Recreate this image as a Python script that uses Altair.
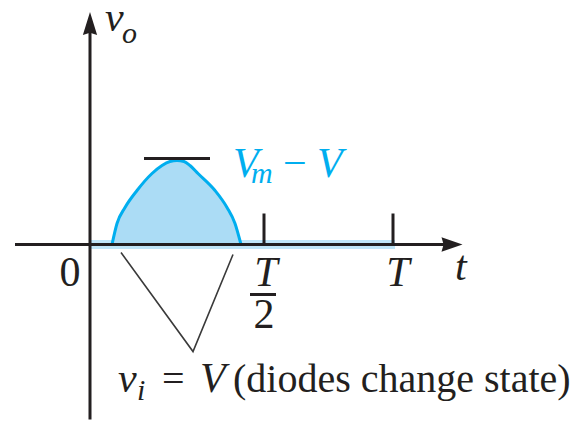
import altair as alt
import pandas as pd

# Output voltage v_o over one period: conduction hump above the diode threshold
hump_t = [22, 27, 35, 47, 62, 72, 80, 87, 94, 100, 108, 125, 137, 145, 151]
hump_v = [0, 21, 37, 54, 71, 79, 83, 84, 83, 79, 71, 54, 37, 21, 0]

# Zero-output stretch drawn along the time axis
band_t = [0, 305]

# Time-axis tick positions: T/2 and T, and their height
tick_t = [174, 303]
tick_h = 31

# Peak marker bar (V_m - V level)
peak_t = [54, 120]
peak_v = 86

# Axis extents
haxis_t = [-75, 355]
vaxis_v = [-175, 215]
arrow_h = (362, 0)
arrow_v = (0, 221)

# Pointer lines towards the "diodes change state" note
ptr_t = [31, 103, 143]
ptr_v = [-8, -107, -10]

# Fraction bar under T/2
frac_t = [160, 186]
frac_v = -50

FONT = "Liberation Serif"
BLACK = "#231f20"
CYAN = "#00aeef"
FILL = "#abdcf5"
BAND = "#bfe5f8"

xs = alt.Scale(domain=[-90, 485], nice=False, zero=False)
ys = alt.Scale(domain=[-181.5, 244.5], nice=False, zero=False)


def X(field, **kw):
    return alt.X(field, type="quantitative", scale=xs, axis=None, **kw)


def Y(field, **kw):
    return alt.Y(field, type="quantitative", scale=ys, axis=None, **kw)


hump = pd.DataFrame(
    {"t": hump_t, "v": hump_v, "base": [0] * len(hump_t), "i": range(len(hump_t))}
)

band = alt.Chart(pd.DataFrame({"a": [band_t[0]], "b": [band_t[1]], "v": [0]})).mark_rule(
    color=BAND, strokeWidth=9
).encode(x=X("a"), x2="b", y=Y("v"))

area = alt.Chart(hump).mark_area(
    fill=FILL, fillOpacity=1, orient="vertical", interpolate="monotone"
).encode(x=X("t"), y=Y("v"), y2="base:Q")
curve = alt.Chart(hump).mark_line(
    color=CYAN, strokeWidth=3, interpolate="monotone"
).encode(x=X("t"), y=Y("v"), order="i:Q")

segs = pd.DataFrame(
    {
        "x1": [haxis_t[0], 0, tick_t[0], tick_t[1], peak_t[0], frac_t[0]],
        "x2": [haxis_t[1], 0, tick_t[0], tick_t[1], peak_t[1], frac_t[1]],
        "y1": [0, vaxis_v[0], 0, 0, peak_v, frac_v],
        "y2": [0, vaxis_v[1], tick_h, tick_h, peak_v, frac_v],
    }
)
rules = alt.Chart(segs).mark_rule(color=BLACK, strokeWidth=3).encode(
    x=X("x1"), x2="x2", y=Y("y1"), y2="y2"
)

ptr = alt.Chart(pd.DataFrame({"t": ptr_t, "v": ptr_v, "i": [0, 1, 2]})).mark_line(
    color="#3a3a3a", strokeWidth=1.6
).encode(x=X("t"), y=Y("v"), order="i:Q")

arrow_r = alt.Chart(pd.DataFrame({"t": [arrow_h[0]], "v": [arrow_h[1]]})).mark_point(
    shape="M1,0L-1,-0.7L-0.8,0L-1,0.7Z", filled=True, color=BLACK, opacity=1, size=441
).encode(x=X("t"), y=Y("v"))
arrow_u = alt.Chart(pd.DataFrame({"t": [arrow_v[0]], "v": [arrow_v[1]]})).mark_point(
    shape="M0,-1L0.62,1L0,0.8L-0.62,1Z", filled=True, color=BLACK, opacity=1, size=529
).encode(x=X("t"), y=Y("v"))


def label(texts, ts, vs, size, color=BLACK, style="normal", align="left"):
    df = pd.DataFrame({"s": texts, "t": ts, "v": vs})
    return alt.Chart(df).mark_text(
        font=FONT, fontSize=size, fontStyle=style, color=color,
        align=align, baseline="alphabetic",
    ).encode(x=X("t"), y=Y("v"), text="s:N")


labels = [
    # axis names
    label(["v", "t"], [15, 365], [213.5, -35.5], 42, style="italic"),
    label(["o"], [32], [201.5], 30, style="italic"),
    # time tick labels
    label(["T", "T"], [176, 308], [-41.5, -41.5], 42, style="italic", align="center"),
    label(["0", "2"], [-20, 174], [-41.5, -83.5], 42, align="center"),
    # peak level V_m - V
    label(["V", "V"], [143, 227], [67.5, 67.5], 42, color=CYAN, style="italic"),
    label(["m"], [161], [61.5], 30, color=CYAN, style="italic"),
    label(["\u2212"], [193], [67.5], 42, color=CYAN),
    # threshold note
    label(["v", "V"], [28, 110], [-147.5, -147.5], 42, style="italic"),
    label(["i"], [47], [-155.5], 30, style="italic"),
    label(["=", "(diodes change state)"], [72, 143], [-147.5, -147.5], 40),
]

chart = alt.layer(band, area, curve, rules, ptr, arrow_r, arrow_u, *labels).properties(
    width=575, height=426, autosize=alt.AutoSizeParams(type="none"), padding=0
).configure_view(stroke=None)

chart.save("out.html", embed_options={"renderer": "svg", "actions": False})
